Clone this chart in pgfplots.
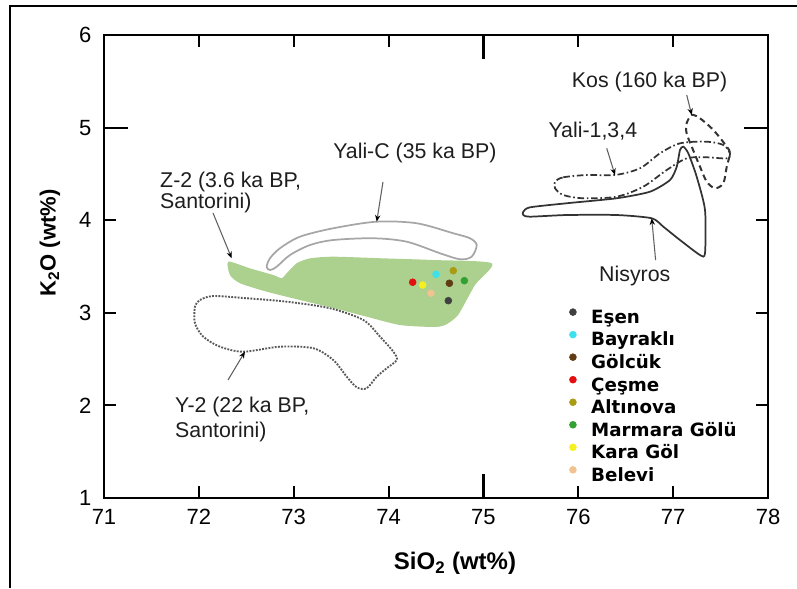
\documentclass[border=0pt]{standalone}
\usepackage{pgfplots}
\pgfplotsset{compat=1.18}
\usepackage{fontspec}
\setmainfont{Liberation Sans}
\newfontfamily\legfont{DejaVu Sans}
\usetikzlibrary{arrows.meta}
\definecolor{zgreen}{RGB}{172,208,142}
\definecolor{cEsen}{RGB}{64,64,64}
\definecolor{cBay}{RGB}{60,225,235}
\definecolor{cGol}{RGB}{95,60,20}
\definecolor{cCes}{RGB}{225,15,15}
\definecolor{cAlt}{RGB}{170,155,20}
\definecolor{cMar}{RGB}{50,160,50}
\definecolor{cKar}{RGB}{245,240,30}
\definecolor{cBel}{RGB}{240,195,145}
\definecolor{txt}{RGB}{30,30,30}
\begin{document}
\begin{tikzpicture}
\begin{axis}[
  scale only axis, width=498pt, height=347.25pt,
  xmin=71, xmax=78, ymin=1, ymax=6,
  xtick={71,72,73,74,75,76,77,78},
  ytick={1,2,3,4,5,6},
  major tick length=9pt, tick align=inside,
  xtick pos=both, ytick pos=both,
  axis line style={line width=2pt},
  major tick style={line width=1.6pt, draw=black},
  /pgf/number format/assume math mode=true,
  ticklabel style={font=\fontsize{16.5}{16.5}\selectfont},
  xticklabel style={yshift=-5pt},
  yticklabel style={xshift=-6pt},
  xlabel={SiO\textsubscript{2} (wt\%)},
  xlabel style={at={(axis description cs:0.5286,-0.1404)}, anchor=center, font=\fontsize{18}{18}\selectfont\bfseries},
  ylabel={K\textsubscript{2}O (wt\%)},
  ylabel style={at={(axis description cs:-0.0813,0.5508)}, anchor=center, font=\fontsize{16.5}{16.5}\selectfont\bfseries},
  clip=false,
  legend style={at={(axis description cs:0.701,0.409)}, anchor=north west, draw=none, fill=none,
    inner sep=0pt, outer sep=0pt, row sep=2.8pt,
    font=\legfont\bfseries\fontsize{13.7}{13.7}\selectfont,
    nodes={inner sep=0pt, text height=10pt, text depth=3pt}},
  legend image code/.code={\draw[#1] plot coordinates {(0pt,5pt)}; \path (13.5pt,5pt);},
  legend cell align=left,
]
% Z-2 green field
\addplot[fill=zgreen, draw=none, smooth cycle, tension=0.4, forget plot] coordinates {
(72.310,3.552) (72.539,3.480) (72.785,3.408) (72.873,3.373) (72.926,3.427) (73.031,3.535)
(73.172,3.588) (73.418,3.606) (73.945,3.588) (74.472,3.570) (75.087,3.535)
(74.911,3.300) (74.732,2.976) (74.595,2.868) (74.468,2.847) (74.120,2.868)
(73.769,2.958) (73.414,3.052) (73.066,3.138) (72.715,3.228) (72.434,3.319) (72.328,3.408)};
% Yali-C
\addplot[gray!70, line width=1.3pt, smooth cycle, tension=0.5, forget plot] coordinates {
(72.715,3.498) (72.750,3.589) (72.855,3.697) (73.066,3.822) (73.417,3.913) (73.875,3.984)
(74.297,3.967) (74.682,3.859) (74.858,3.805) (74.929,3.732) (74.876,3.606) (74.753,3.578)
(74.542,3.643) (74.191,3.768) (73.839,3.805) (73.417,3.786) (73.172,3.732) (72.961,3.624)
(72.821,3.498) (72.750,3.462)};
% Y-2
\addplot[black!65, line width=1.4pt, densely dotted, smooth cycle, tension=0.5, forget plot] coordinates {
(71.959,3.066) (72.012,3.138) (72.152,3.181) (72.504,3.157) (72.926,3.120) (73.383,3.049)
(73.734,2.922) (73.910,2.742) (74.050,2.580) (74.086,2.490) (73.980,2.401) (73.875,2.310)
(73.769,2.185) (73.664,2.196) (73.559,2.310) (73.417,2.490) (73.207,2.617) (72.855,2.634)
(72.469,2.580) (72.223,2.634) (72.047,2.742) (71.959,2.887)};
% Nisyros
\addplot[black!80, line width=1.3pt, smooth cycle, tension=0.4, forget plot] coordinates {
(75.420,4.092) (75.491,4.139) (75.878,4.183) (76.405,4.237) (76.756,4.308) (76.967,4.434)
(77.038,4.578) (77.072,4.758) (77.107,4.794) (77.160,4.722) (77.248,4.470) (77.336,4.110)
(77.336,3.643) (77.283,3.624) (77.072,3.786) (76.896,3.930) (76.774,4.021) (76.405,4.056)
(75.878,4.056) (75.491,4.038) (75.420,4.056)};
% Yali-1,3,4
\addplot[black!80, line width=1.3pt, dash pattern=on 5pt off 2pt on 1.2pt off 2pt, smooth cycle, tension=0.5, forget plot] coordinates {
(75.755,4.416) (75.842,4.463) (76.089,4.488) (76.387,4.488) (76.651,4.561) (76.861,4.722)
(77.072,4.830) (77.354,4.848) (77.529,4.812) (77.599,4.722) (77.565,4.668) (77.354,4.679)
(77.143,4.668) (76.932,4.542) (76.685,4.362) (76.405,4.254) (76.053,4.237) (75.842,4.272)
(75.755,4.345)};
% Kos
\addplot[black!80, line width=1.5pt, dash pattern=on 4.5pt off 3pt, smooth cycle, tension=0.5, forget plot] coordinates {
(77.196,5.136) (77.283,5.100) (77.424,4.974) (77.565,4.794) (77.599,4.722) (77.565,4.578)
(77.529,4.399) (77.441,4.345) (77.354,4.416) (77.283,4.578) (77.196,4.794) (77.142,4.938)
(77.142,5.046)};
% samples
\addplot[only marks, mark=*, mark size=2.6pt, color=cEsen, mark options={draw=none}] coordinates {(74.630,3.131)};
\addlegendentry{Eşen}
\addplot[only marks, mark=*, mark size=2.6pt, color=cBay, mark options={draw=none}] coordinates {(74.500,3.416)};
\addlegendentry{Bayraklı}
\addplot[only marks, mark=*, mark size=2.6pt, color=cGol, mark options={draw=none}] coordinates {(74.641,3.319)};
\addlegendentry{Gölcük}
\addplot[only marks, mark=*, mark size=2.6pt, color=cCes, mark options={draw=none}] coordinates {(74.254,3.330)};
\addlegendentry{Çeşme}
\addplot[only marks, mark=*, mark size=2.6pt, color=cAlt, mark options={draw=none}] coordinates {(74.682,3.455)};
\addlegendentry{Altınova}
\addplot[only marks, mark=*, mark size=2.6pt, color=cMar, mark options={draw=none}] coordinates {(74.799,3.347)};
\addlegendentry{Marmara Gölü}
\addplot[only marks, mark=*, mark size=2.6pt, color=cKar, mark options={draw=none}] coordinates {(74.360,3.300)};
\addlegendentry{Kara Göl}
\addplot[only marks, mark=*, mark size=2.6pt, color=cBel, mark options={draw=none}] coordinates {(74.447,3.211)};
\addlegendentry{Belevi}
% longer ticks at 75 and 5
\draw[line width=1.6pt, black] (axis cs:75,1) -- (axis cs:75,1.26);
\draw[line width=1.6pt, black] (axis cs:75,6) -- (axis cs:75,5.74);
\draw[line width=1.6pt, black] (axis cs:71,5) -- (axis cs:71.253,5);
\draw[line width=1.6pt, black] (axis cs:78,5) -- (axis cs:77.747,5);
% annotations
\tikzset{ann/.style={anchor=base west, inner sep=0pt, text=txt, font=\fontsize{16}{16}\selectfont},
  arr/.style={draw=gray!75!black, line width=0.8pt, -{Stealth[length=5pt,width=4pt,black]}}}
\node[ann] at (axis cs:71.590,4.348) {Z-2 (3.6 ka BP,};
\node[ann] at (axis cs:71.590,4.121) {Santorini)};
\node[ann] at (axis cs:73.414,4.661) {Yali-C (35 ka BP)};
\node[ann] at (axis cs:71.748,1.918) {Y-2 (22 ka BP,};
\node[ann] at (axis cs:71.748,1.648) {Santorini)};
\node[ann] at (axis cs:75.930,5.428) {Kos (160 ka BP)};
\node[ann] at (axis cs:75.684,4.895) {Yali-1,3,4};
\node[ann] at (axis cs:76.218,3.336) {Nisyros};
\draw[arr] (axis cs:72.149,4.078) -- (axis cs:72.346,3.589);
\draw[arr] (axis cs:73.941,4.413) -- (axis cs:73.875,3.984);
\draw[arr] (axis cs:72.307,2.274) -- (axis cs:72.486,2.580);
\draw[arr] (axis cs:77.143,5.352) -- (axis cs:77.196,5.136);
\draw[arr] (axis cs:76.300,4.776) -- (axis cs:76.387,4.488);
\draw[arr] (axis cs:76.815,3.570) -- (axis cs:76.774,4.021);
\end{axis}
\draw[line width=1.5pt, black] ([xshift=-70.5pt,yshift=-67.5pt]current axis.south west) -- ([xshift=-70.5pt,yshift=21.75pt]current axis.north west) -- ([xshift=21.75pt,yshift=21.75pt]current axis.north east);
\pgfresetboundingbox
\path[use as bounding box] ([xshift=-78pt,yshift=-67.5pt]current axis.south west) rectangle ([xshift=21.75pt,yshift=26.25pt]current axis.north east);
\end{tikzpicture}
\end{document}
